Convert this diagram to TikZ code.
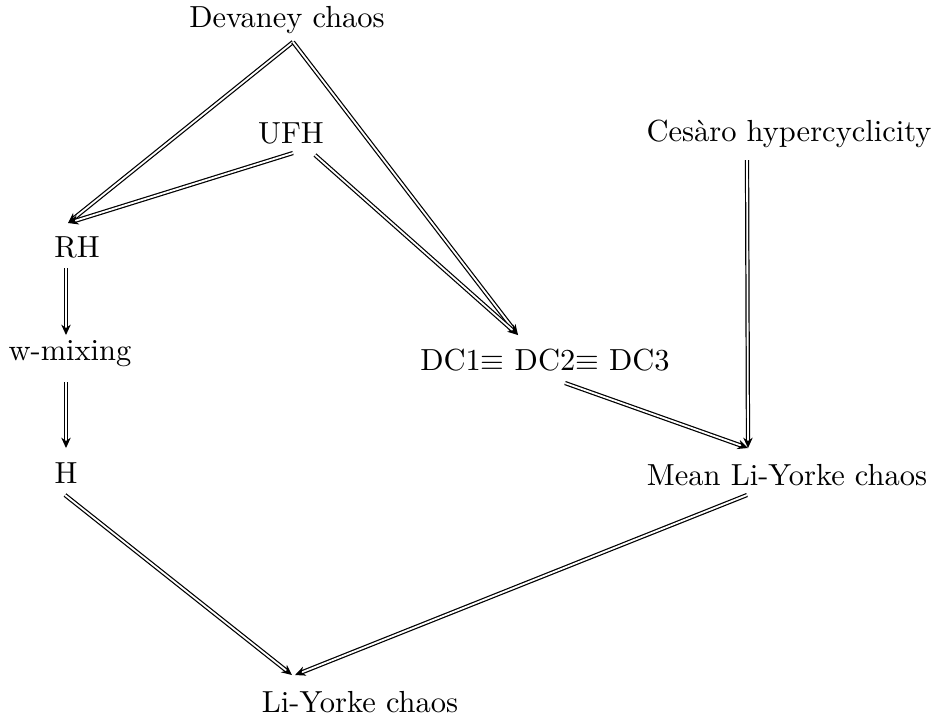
\documentclass[tikz,border=0pt]{standalone}
\usetikzlibrary{arrows.meta,calc}
\begin{document}
\begin{tikzpicture}[x=0.328pt,y=-0.328pt,
  lbl/.style={anchor=base,inner sep=0pt,font=\fontsize{10}{12}\selectfont},
  imp/.style={double,line width=0.4pt,double distance=0.6pt,-{Stealth[length=3.4pt,width=3.1pt,inset=1.1pt]}}]
\useasboundingbox (0,0) rectangle (939,718);
\node[lbl] (dev) at (287,27) {Devaney chaos};
\node[lbl] (ufh) at (291,143) {UFH};
\node[lbl] (ces) at (789,141) {Ces\`aro hypercyclicity};
\node[lbl] (rh) at (77,257) {RH};
\node[lbl] (wmix) at (70,360) {w-mixing};
\node[lbl] (dc) at (545,370) {DC1$\equiv$ DC2$\equiv$ DC3};
\node[lbl] (h) at (66,483) {H};
\node[lbl] (mly) at (787,485) {Mean Li-Yorke chaos};
\node[lbl] (ly) at (360,712) {Li-Yorke chaos};
\draw[imp] ($(dev.base)+(6,15)$) -- ($(rh.base)+(-9,-34)$);
\draw[imp] ($(dev.base)+(6,15)$) -- ($(dc.base)+(-27,-35)$);
\draw[imp] ($(ufh.base)+(2,10)$) -- ($(rh.base)+(-9,-34)$);
\draw[imp] ($(ufh.base)+(24,12)$) -- ($(dc.base)+(-27,-35)$);
\draw[imp] ($(rh.base)+(-11,11)$) -- ($(wmix.base)+(-4,-25)$);
\draw[imp] ($(wmix.base)+(-4,22)$) -- ($(h.base)+(0,-35)$);
\draw[imp] ($(ces.base)+(-42,19)$) -- ($(mly.base)+(-39,-37)$);
\draw[imp] ($(dc.base)+(20,13)$) -- ($(mly.base)+(-39,-37)$);
\draw[imp] ($(h.base)+(-1,12)$) -- ($(ly.base)+(-68,-37)$);
\draw[imp] ($(mly.base)+(-40,10)$) -- ($(ly.base)+(-65,-37)$);
\end{tikzpicture}
\end{document}
